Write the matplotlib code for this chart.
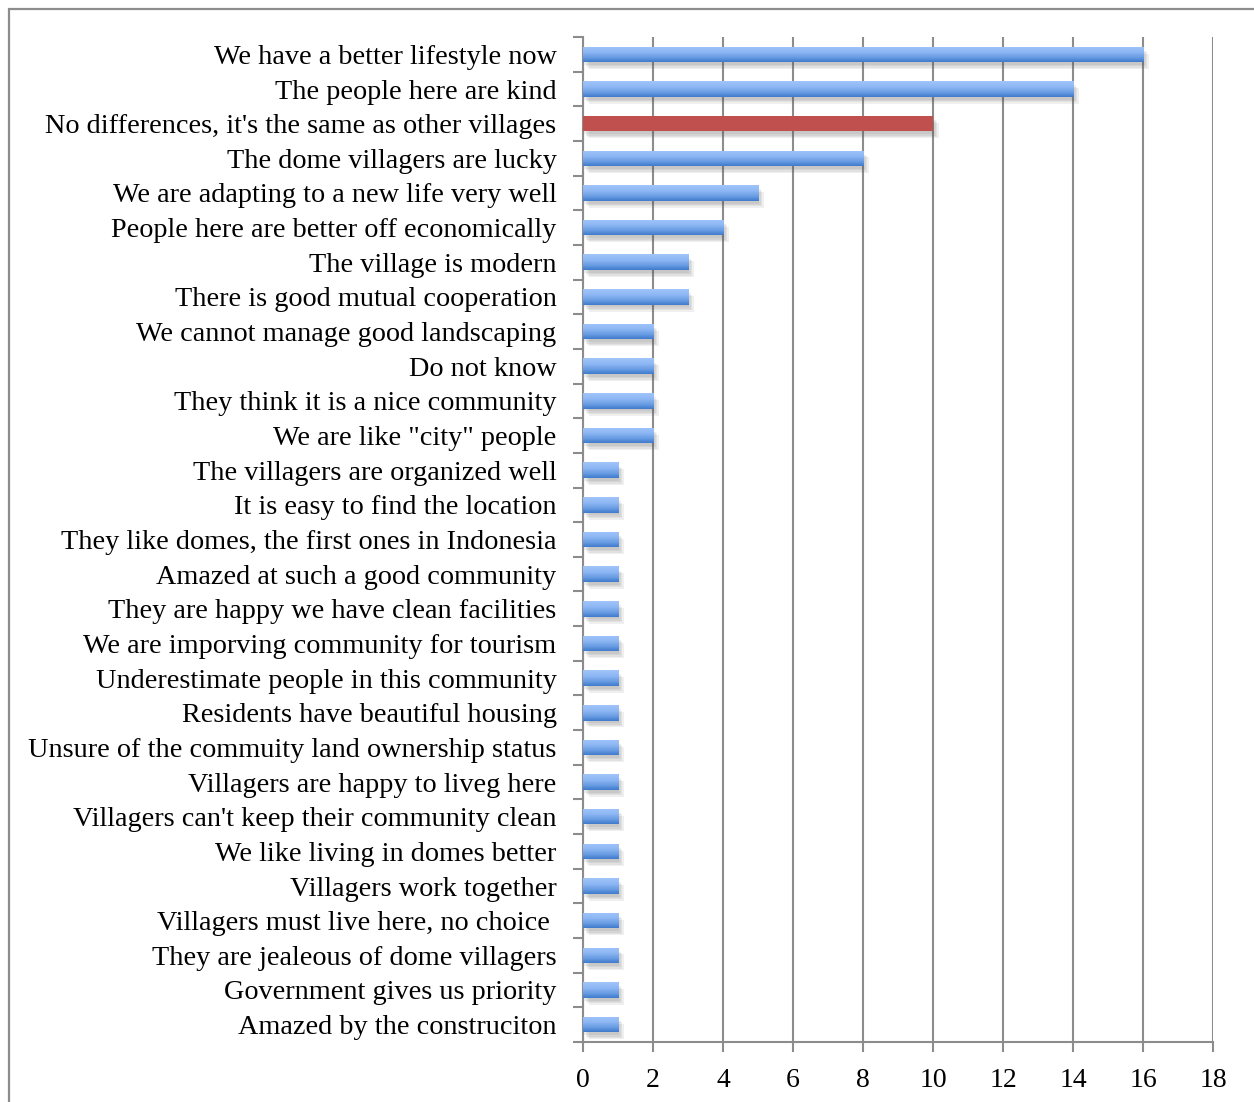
import numpy as np
import matplotlib.pyplot as plt
import matplotlib.patheffects as pe
from matplotlib.colors import LinearSegmentedColormap
from matplotlib.patches import Rectangle

# responses, top to bottom
labels = [
    "We have a better lifestyle now",
    "The people here are kind",
    "No differences, it's the same as other villages",
    "The dome villagers are lucky",
    "We are adapting to a new life very well",
    "People here are better off economically",
    "The village is modern",
    "There is good mutual cooperation",
    "We cannot manage good landscaping",
    "Do not know",
    "They think it is a nice community",
    "We are like \"city\" people",
    "The villagers are organized well",
    "It is easy to find the location",
    "They like domes, the first ones in Indonesia",
    "Amazed at such a good community",
    "They are happy we have clean facilities",
    "We are imporving community for tourism",
    "Underestimate people in this community",
    "Residents have beautiful housing",
    "Unsure of the commuity land ownership status",
    "Villagers are happy to liveg here",
    "Villagers can't keep their community clean",
    "We like living in domes better",
    "Villagers work together",
    "Villagers must live here, no choice ",
    "They are jealeous of dome villagers",
    "Government gives us priority",
    "Amazed by the construciton",
]
counts = [16, 14, 10, 8, 5, 4, 3, 3, 2, 2, 2, 2,
          1, 1, 1, 1, 1, 1, 1, 1, 1, 1, 1, 1, 1, 1, 1, 1, 1]
highlight = "No differences, it's the same as other villages"

plt.rcParams['font.family'] = ['Liberation Serif', 'DejaVu Serif']

fig = plt.figure(figsize=(12.54, 11.02), dpi=100)
ax = fig.add_axes([0.4649, 0.0545, 0.5024, 0.9119])

# outer frame
fig.patches.append(Rectangle((9 / 1254, -0.1), 1.2, 1 - 9 / 1102 + 0.1,
                             transform=fig.transFigure, fill=False,
                             edgecolor='#8c8c8c', linewidth=1.6, zorder=0))

blue_map = LinearSegmentedColormap.from_list(
    'blue_grad', [(0, '#9fc4fa'), (0.35, '#8fb8f4'), (0.7, '#6a9de3'), (1, '#3f7bcd')])
grad = np.linspace(0, 1, 64).reshape(-1, 1)

y = np.arange(len(labels))
h = 0.45
# soft drop shadow: a few faint offset copies
shadow = [pe.SimplePatchShadow(offset=(o, -o - 1), shadow_rgbFace='#555555', alpha=0.09)
          for o in (1, 2, 3, 4)] + [pe.Normal()]
for yi, lab, v in zip(y, labels, counts):
    if lab == highlight:
        ax.barh(yi, v, height=h, color='#c0504d', zorder=3, path_effects=shadow)
    else:
        bar = ax.barh(yi, v, height=h, color='#6b9de3', zorder=3,
                      path_effects=shadow)[0]
        im = ax.imshow(grad, cmap=blue_map, aspect='auto', origin='upper',
                       extent=[0, v, yi + h / 2, yi - h / 2], zorder=4,
                       interpolation='bilinear')
        im.set_clip_path(bar)

ax.set_xlim(0, 18)
ax.set_ylim(len(labels) - 0.5, -0.5)
ax.set_aspect('auto')

ax.set_xticks(np.arange(0, 19, 2))
ax.set_yticks(y)
ax.set_yticklabels(labels)
ax.set_yticks(np.arange(-0.5, len(labels), 1), minor=True)

ax.tick_params(axis='y', which='major', length=0, pad=19, labelsize=20.3)
ax.tick_params(axis='y', which='minor', length=7, width=1.5, color='#8c8c8c')
ax.tick_params(axis='x', length=7, width=1.5, color='#8c8c8c', labelsize=20, pad=12)

ax.grid(axis='x', color='#8c8c8c', linewidth=1.5, zorder=0)
ax.set_axisbelow(True)
for s in ['top', 'right']:
    ax.spines[s].set_visible(False)
for s in ['left', 'bottom']:
    ax.spines[s].set_color('#8c8c8c')
    ax.spines[s].set_linewidth(1.5)

fig.savefig('out.png', dpi=100)
